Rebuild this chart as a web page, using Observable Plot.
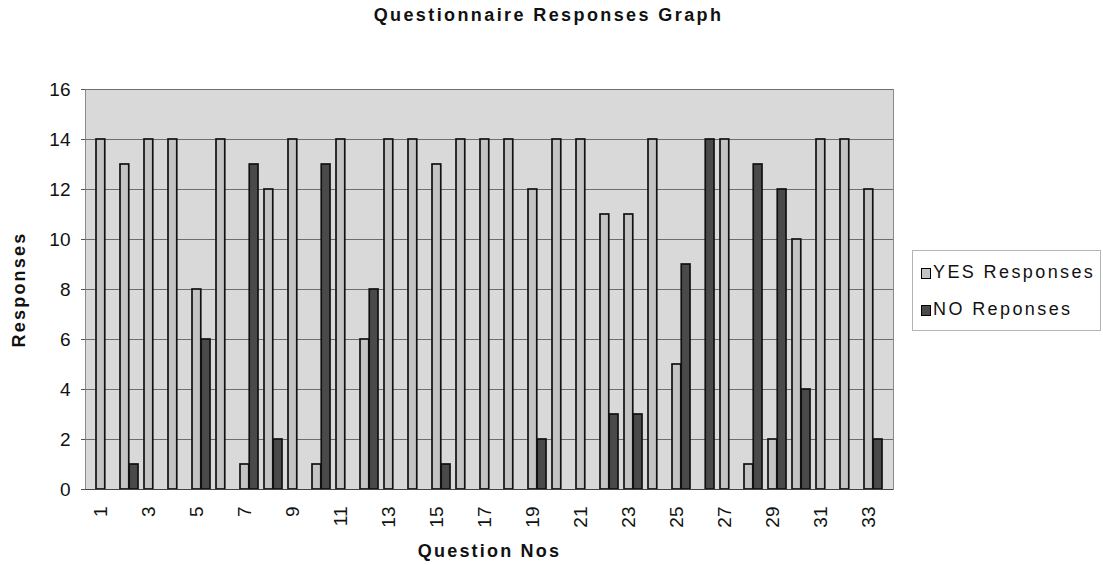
<!DOCTYPE html>
<html>
<head>
<meta charset="utf-8">
<script src="https://cdn.jsdelivr.net/npm/d3@7"></script>
<script src="https://cdn.jsdelivr.net/npm/@observablehq/plot@0.6"></script>
<style>
  body { margin: 0; background: #fff; font-family: "Liberation Sans", Arial, sans-serif; color: #111; }
  #wrap { position: relative; width: 1103px; height: 565px; overflow: hidden; }
  #title { position: relative; height: 40px; }
  #title span { position: absolute; left: 0; width: 1097px; top: 6px; text-align: center; font-size: 18px; font-weight: bold; line-height: 18px; letter-spacing: 2.4px; }
  #chart svg { display: block; }
  g[aria-label="x-axis label"], g[aria-label="y-axis label"] { font-size: 18px; font-weight: bold; letter-spacing: 2.2px; }
  #legend { position: absolute; left: 912px; top: 250px; width: 187px; height: 79px; border: 1px solid #b4b4b4; background: #fff; }
  .sw { position: absolute; width: 8px; height: 9px; border: 1px solid #000; }
  .lt { position: absolute; font-size: 18px; line-height: 18px; letter-spacing: 2.4px; white-space: nowrap; }
</style>
</head>
<body>
<div id="wrap">
  <div id="title"><span>Questionnaire Responses Graph</span></div>
  <div id="chart"></div>
  <div id="legend"></div>
</div>
<script>
// ---- data ----
const questions = [1,2,3,4,5,6,7,8,9,10,11,12,13,14,15,16,17,18,19,20,21,22,23,24,25,26,27,28,29,30,31,32,33];
const yesResponses = [14,13,14,14,8,14,1,12,14,1,14,6,14,14,13,14,14,14,12,14,14,11,11,14,5,0,14,1,2,10,14,14,12];
const noResponses  = [0,1,0,0,6,0,13,2,0,13,0,8,0,0,1,0,0,0,2,0,0,3,3,0,9,14,0,13,12,4,0,0,2];
const seriesNames = ["YES Responses", "NO Reponses"];
const yTicks = [0,2,4,6,8,10,12,14,16];
const xTickLabels = [1,3,5,7,9,11,13,15,17,19,21,23,25,27,29,31,33];

// ---- styles / layout ----
const colors = {"YES Responses": "#c4c4c4", "NO Reponses": "#4a4a4a"};
const W = 1103, H = 525, mL = 85, mR = 210, mT = 49, mB = 76;
const pInner = 0.245, pOuter = 0.1225;
const step = (W - mL - mR) / (questions.length - pInner + 2 * pOuter);
const half = step * (1 - pInner) / 2;

const yesData = questions.map((q, i) => ({q, value: yesResponses[i], series: seriesNames[0]}));
const noData = questions.map((q, i) => ({q, value: noResponses[i], series: seriesNames[1]}));

const chart = Plot.plot({
  width: W,
  height: H,
  marginLeft: mL,
  marginRight: mR,
  marginTop: mT,
  marginBottom: mB,
  style: {fontFamily: "'Liberation Sans', Arial, sans-serif", color: "#111", background: "#fff"},
  x: {type: "band", domain: questions, paddingInner: pInner, paddingOuter: pOuter, axis: null},
  y: {domain: [0, 16], axis: null},
  color: {domain: seriesNames, range: seriesNames.map(s => colors[s])},
  marks: [
    Plot.frame({fill: "#d9d9d9", stroke: "#8a8a8a"}),
    Plot.gridY(yTicks.slice(1), {stroke: "#6e6e6e", strokeOpacity: 1, strokeWidth: 1}),
    Plot.barY(yesData, {x: "q", y: "value", fill: "series", stroke: "#111", strokeWidth: 1.7, insetLeft: 0, insetRight: half}),
    Plot.barY(noData, {x: "q", y: "value", fill: "series", stroke: "#111", strokeWidth: 1.7, insetLeft: half, insetRight: 0}),
    Plot.axisY({ticks: yTicks, tickSize: 4, tickPadding: 11, fontSize: 19, stroke: "#555", label: "Responses", labelAnchor: "center", labelOffset: 73, labelArrow: "none"}),
    Plot.axisX({ticks: xTickLabels, tickSize: 0, tickPadding: 17, tickRotate: -90, fontSize: 19, dx: -5, label: "Question Nos", labelAnchor: "center", labelOffset: 67, labelArrow: "none"}),
    Plot.ruleY([0], {stroke: "#444", strokeWidth: 1.2})
  ]
});
document.getElementById("chart").appendChild(chart);

// legend
const legend = document.getElementById("legend");
const items = [
  {name: seriesNames[0], swTop: 17, txTop: 12},
  {name: seriesNames[1], swTop: 54, txTop: 49}
];
for (const it of items) {
  const sw = document.createElement("div");
  sw.className = "sw";
  sw.style.left = "8px";
  sw.style.top = it.swTop + "px";
  sw.style.background = colors[it.name];
  legend.appendChild(sw);
  const tx = document.createElement("div");
  tx.className = "lt";
  tx.style.left = "20px";
  tx.style.top = it.txTop + "px";
  tx.textContent = it.name;
  legend.appendChild(tx);
}
</script>
</body>
</html>
